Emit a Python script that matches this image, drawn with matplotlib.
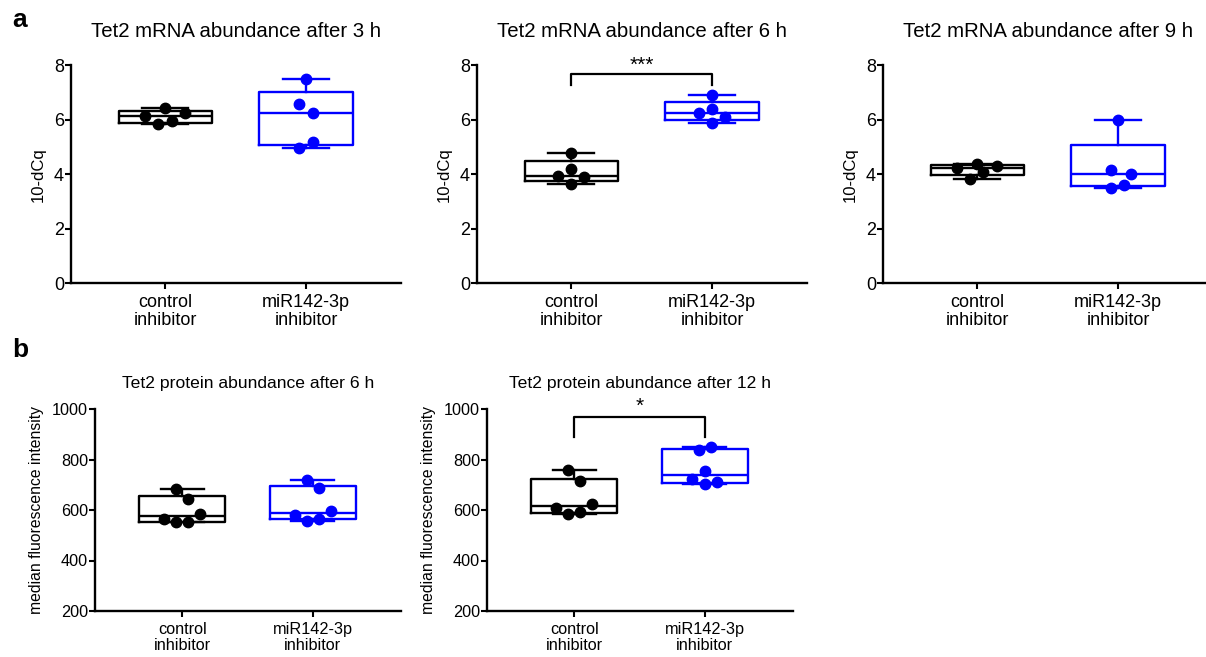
import numpy as np
import matplotlib
matplotlib.use("Agg")
import matplotlib.pyplot as plt

plt.rcParams['font.family'] = ['Liberation Sans', 'DejaVu Sans']

# group labels
groups = ['control\ninhibitor', 'miR142-3p\ninhibitor']

# panel a: 10-dCq values (control, miR142-3p)
mrna_3h_ctrl = [6.42, 6.12, 6.23, 5.84, 5.93]
mrna_3h_mir = [7.48, 6.57, 6.24, 5.18, 4.96]
mrna_6h_ctrl = [4.76, 4.19, 3.95, 3.89, 3.64]
mrna_6h_mir = [6.90, 6.39, 6.24, 6.10, 5.87]
mrna_9h_ctrl = [4.39, 4.30, 4.21, 4.08, 3.84]
mrna_9h_mir = [6.00, 4.17, 4.01, 3.60, 3.50]

# panel b: median fluorescence intensity
prot_6h_ctrl = [685, 643, 586, 566, 551, 554]
prot_6h_mir = [717, 688, 598, 579, 556, 565]
prot_12h_ctrl = [759, 713, 623, 607, 585, 591]
prot_12h_mir = [851, 838, 756, 723, 704, 709]

# horizontal spread of the dots (Prism-style scatter)
spread_3h = [[0, -0.14, 0.14, -0.05, 0.05], [0, -0.05, 0.05, 0.05, -0.05]]
spread_6h = [[0, 0, -0.095, 0.095, 0], [0, 0, -0.095, 0.095, 0]]
spread_9h = [[0, 0.14, -0.14, 0.045, -0.05], [0, -0.05, 0.095, 0.045, -0.05]]
spread_b6 = [[-0.046, 0.046, 0.14, -0.14, -0.046, 0.046],
             [-0.046, 0.046, 0.14, -0.14, -0.046, 0.046]]
spread_b12 = [[-0.046, 0.046, 0.14, -0.14, -0.046, 0.046],
              [0.046, -0.046, 0, -0.1, 0, 0.09]]

COLORS = ['black', '#0000ff']
W, H = 1206, 657


def box_stats(vals):
    # quartiles as Prism computes them
    v = np.asarray(vals, float)
    q1, med, q3 = np.percentile(v, [25, 50, 75], method='weibull')
    return dict(med=med, q1=q1, q3=q3, whislo=v.min(), whishi=v.max(), fliers=[])


def panel(rect, data, spread, title, ylabel, ylim, yticks, fs_tick, fs_title, tpad, fs_ylab):
    l, t, w, h = rect
    ax = fig.add_axes([l / W, 1 - (t + h) / H, w / W, h / H])
    for i, (vals, col) in enumerate(zip(data, COLORS)):
        ax.bxp([box_stats(vals)], positions=[i + 1], widths=0.66, showfliers=False,
               boxprops=dict(color=col, lw=1.7),
               medianprops=dict(color=col, lw=1.7),
               whiskerprops=dict(color=col, lw=1.7),
               capprops=dict(color=col, lw=1.7), capwidths=0.33)
        ax.plot(np.add(i + 1, spread[i]), vals, 'o', color=col, ms=7.5, zorder=5,
                clip_on=False)
    ax.set_xlim(0.333, 2.674)
    ax.set_ylim(*ylim)
    ax.set_yticks(yticks)
    ax.set_xticks([1, 2])
    ax.set_xticklabels(groups, fontsize=fs_tick, linespacing=1.05)
    ax.tick_params(axis='y', labelsize=fs_tick, width=1.5, length=4, pad=1)
    ax.tick_params(axis='x', width=1.5, length=4, pad=4)
    for s in ['top', 'right']:
        ax.spines[s].set_visible(False)
    for s in ['left', 'bottom']:
        ax.spines[s].set_linewidth(1.7)
    ax.set_title(title, fontsize=fs_title, pad=tpad)
    ax.set_ylabel(ylabel, fontsize=fs_ylab, labelpad=6)
    return ax


def bracket(ax, y_top, y_leg, label, y_text):
    ax.plot([1, 1, 2, 2], [y_leg, y_top, y_top, y_leg], color='black', lw=1.6,
            clip_on=False)
    ax.text(1.5, y_text, label, ha='center', va='center', fontsize=15, clip_on=False)


fig = plt.figure(figsize=(W / 100, H / 100), dpi=100)

a_ticks = [0, 2, 4, 6, 8]
panel((71, 65, 330, 218.3), [mrna_3h_ctrl, mrna_3h_mir], spread_3h,
      'Tet2 mRNA abundance after 3 h', '10-dCq', (0, 8), a_ticks, 13, 14.7, 20, 12)
ax = panel((477, 65, 330, 218.3), [mrna_6h_ctrl, mrna_6h_mir], spread_6h,
           'Tet2 mRNA abundance after 6 h', '10-dCq', (0, 8), a_ticks, 13, 14.7, 20, 12)
bracket(ax, 7.68, 7.28, '***', 8.0)
panel((883, 65, 330, 218.3), [mrna_9h_ctrl, mrna_9h_mir], spread_9h,
      'Tet2 mRNA abundance after 9 h', '10-dCq', (0, 8), a_ticks, 13, 14.7, 20, 12)

b_ticks = [200, 400, 600, 800, 1000]
panel((95, 409, 306, 202), [prot_6h_ctrl, prot_6h_mir], spread_b6,
      'Tet2 protein abundance after 6 h', 'median fluorescence intensity',
      (200, 1000), b_ticks, 11.7, 12.6, 15, 11.3)
ax = panel((487, 409, 306, 202), [prot_12h_ctrl, prot_12h_mir], spread_b12,
           'Tet2 protein abundance after 12 h', 'median fluorescence intensity',
           (200, 1000), b_ticks, 11.7, 12.6, 15, 11.3)
bracket(ax, 968, 890, '*', 1012)

fig.text(12 / W, 1 - 20 / H, 'a', fontsize=19, fontweight='bold', va='center')
fig.text(12 / W, 1 - 350 / H, 'b', fontsize=19, fontweight='bold', va='center')

fig.savefig('out.png', dpi=100)
